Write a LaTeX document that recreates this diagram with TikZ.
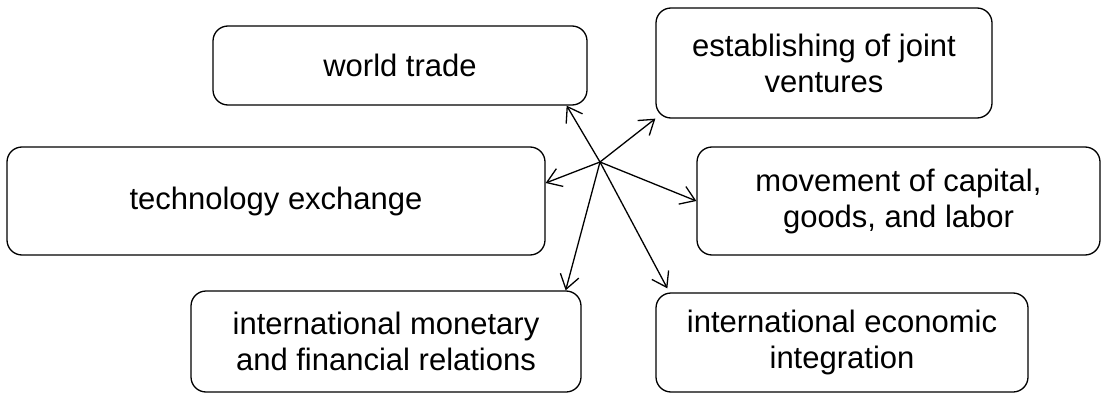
\documentclass[tikz,border=0pt]{standalone}
\usepackage{fontspec}
\setmainfont{Liberation Sans}
\usetikzlibrary{arrows.meta}
\begin{document}
\begin{tikzpicture}[x=1pt,y=-1pt,line width=1.3pt,
  >={Straight Barb[length=14pt,width=19pt,line width=1.3pt]},
  box/.style={draw,rounded corners=15pt,align=center,inner sep=0pt,
    font=\fontsize{31}{36}\selectfont}]
\useasboundingbox (0,0) rectangle (1105,393);
\node[box,minimum width=374pt,minimum height=79pt](wt) at(400,65.5){world trade};
\node[box,minimum width=336pt,minimum height=110pt](jv) at(824,63){establishing of joint\\ventures};
\node[box,minimum width=538pt,minimum height=108pt](tech) at(276,201){technology exchange};
\node[box,minimum width=403pt,minimum height=108pt](mv) at(898.5,201){movement of capital,\\goods, and labor};
\node[box,minimum width=390pt,minimum height=101pt](mon) at(386,341.5){international monetary\\and financial relations};
\node[box,minimum width=372pt,minimum height=99pt](int) at(842,342.5){international economic\\integration};
\coordinate (hub) at (600,162);
\draw[->] (hub) -- ([xshift=-21pt]wt.south east);
\draw[->] (hub) -- (jv.south west);
\draw[->] (hub) -- ([yshift=18pt]tech.east);
\draw[->] (hub) -- (mv.west);
\draw[->] (hub) -- ([xshift=-16pt]mon.north east);
\draw[->] (hub) -- ([xshift=12pt,yshift=4pt]int.north west);
\end{tikzpicture}
\end{document}
